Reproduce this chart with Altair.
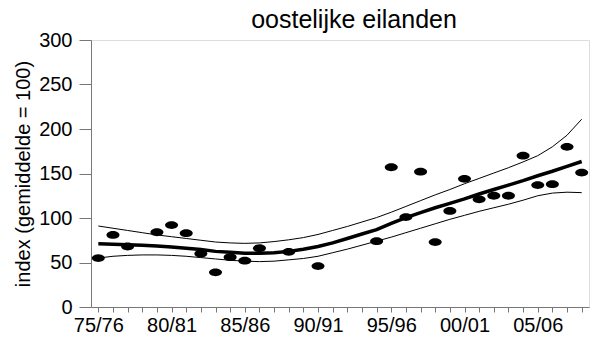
import altair as alt
import pandas as pd

# Season labels along the x axis (one per year)
seasons = ["75/76", "76/77", "77/78", "78/79", "79/80", "80/81", "81/82", "82/83",
           "83/84", "84/85", "85/86", "86/87", "87/88", "88/89", "89/90", "90/91",
           "91/92", "92/93", "93/94", "94/95", "95/96", "96/97", "97/98", "98/99",
           "99/00", "00/01", "01/02", "02/03", "03/04", "04/05", "05/06", "06/07",
           "07/08", "08/09"]

# Observed index values (season position, index)
obs_season = [0, 1, 2, 4, 5, 6, 7, 8, 9, 10, 11, 13, 15, 19, 20, 21, 22, 23,
              24, 25, 26, 27, 28, 29, 30, 31, 32, 33]
obs_index = [55, 81, 68, 84, 92, 83, 60, 39, 56, 52, 66, 62, 46, 74, 157, 101,
             152, 73, 108, 144, 121, 125, 125, 170, 137, 138, 180, 151]

# Smoothed trend with its lower and upper band, one value per season
trend = [71, 70.5, 70, 69.5, 68.5, 67.5, 66, 64.5, 62.5, 61.5, 60.5, 60.5, 61,
         62.5, 65, 68, 72, 77, 82, 87, 94, 100.5, 106, 111.5, 116.5, 121.5, 127,
         132, 137, 142, 147.5, 152.5, 158, 163.5]
upper = [91, 88.5, 86, 83.5, 81, 79, 77, 75, 73, 72, 71.5, 72, 73.5, 75.5, 78,
         81.5, 86, 90.5, 95.5, 100.5, 106.5, 113, 119.5, 126, 132, 138.5, 144.5,
         150.5, 156.5, 163, 170, 180, 193, 211]
lower = [55, 57, 58, 58.5, 58.5, 58, 57, 55.5, 54, 52.5, 51.5, 51, 51.5, 53,
         54.5, 57, 61, 65, 69.5, 74, 78.5, 83.5, 88.5, 93.5, 98.5, 103, 107.5,
         111.5, 115.5, 120, 125, 128, 129, 128.5]

FONT = "Liberation Sans"

points = pd.DataFrame({"season": obs_season, "index": obs_index})
curves = pd.DataFrame({
    "season": list(range(len(seasons))),
    "trend": trend,
    "upper": upper,
    "lower": lower,
})

label_array = "[" + ",".join(f"'{s}'" for s in seasons) + "]"

x_scale = alt.Scale(domain=[-0.5, 33.5], nice=False, zero=False)
y_scale = alt.Scale(domain=[0, 300], nice=False)

x_axis = alt.Axis(
    title=None,
    values=list(range(len(seasons))),
    labelExpr=f"datum.value % 5 == 0 ? {label_array}[datum.value] : ''",
    labelOverlap=False,
    labelFlush=False,
    labelBound=False,
    grid=False,
    tickSize=5,
    labelPadding=3,
    labelFontSize=20,
    labelFont=FONT,
    labelColor="black",
    domainColor="#777777",
    tickColor="#777777",
)
y_axis = alt.Axis(
    title="index (gemiddelde = 100)",
    values=[0, 50, 100, 150, 200, 250, 300],
    grid=False,
    labelOverlap=False,
    tickSize=12,
    labelPadding=7,
    labelFontSize=20,
    labelFont=FONT,
    labelColor="black",
    titleFont=FONT,
    titleFontSize=20,
    titleFontWeight="normal",
    titleColor="black",
    titleAngle=270,
    titleAlign="center",
    titleBaseline="alphabetic",
    titleX=-62,
    titleY=133.5,
    domainColor="#777777",
    tickColor="#777777",
)

x_enc = alt.X("season:Q", scale=x_scale, axis=x_axis)

ellipse = "M-1,0A1,0.6,0,1,1,1,0A1,0.6,0,1,1,-1,0Z"

base = alt.Chart(curves)

band_hi = base.mark_line(color="black", strokeWidth=1).encode(
    x=x_enc,
    y=alt.Y("upper:Q", scale=y_scale, axis=y_axis),
)
band_lo = base.mark_line(color="black", strokeWidth=1).encode(
    x=x_enc,
    y=alt.Y("lower:Q", scale=y_scale, axis=y_axis),
)
trend_line = base.mark_line(color="black", strokeWidth=3.5).encode(
    x=x_enc,
    y=alt.Y("trend:Q", scale=y_scale, axis=y_axis),
)
dots = alt.Chart(points).mark_point(
    shape=ellipse, filled=True, color="black", opacity=1, size=169
).encode(
    x=x_enc,
    y=alt.Y("index:Q", scale=y_scale, axis=y_axis),
)

chart = (
    alt.layer(band_hi, band_lo, trend_line, dots)
    .properties(
        width=498,
        height=267,
        autosize=alt.AutoSizeParams(type="none"),
        padding={"left": 91, "top": 40, "right": 2, "bottom": 34},
        title=alt.TitleParams(
            "oostelijke eilanden",
            font=FONT,
            fontSize=25,
            fontWeight="normal",
            color="black",
            anchor="middle",
            frame="group",
            offset=4,
            dx=14,
            dy=7,
        ),
    )
    .configure_view(stroke="black", strokeWidth=1)
    .configure_axis(labelOverlap=False)
    .configure(background="white")
)

chart.save("out.html", embed_options={"renderer": "svg", "actions": False})
